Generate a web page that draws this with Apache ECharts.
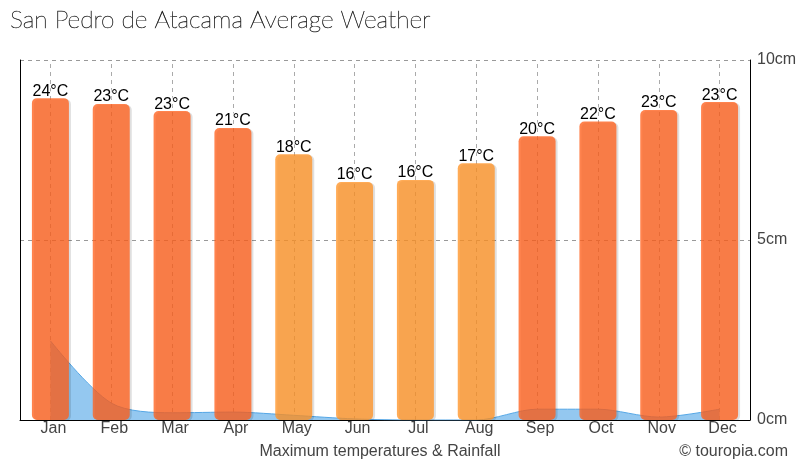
<!DOCTYPE html>
<html><head><meta charset="utf-8">
<style>html,body{margin:0;padding:0;background:#fff}#c{width:810px;height:470px}</style>
<script src="https://cdn.jsdelivr.net/npm/echarts@6/dist/echarts.min.js"></script>
</head><body><div id="c"></div>
<script>
const months = ['Jan','Feb','Mar','Apr','May','Jun','Jul','Aug','Sep','Oct','Nov','Dec'];
const tempLabels = [24,23,23,21,18,16,16,17,20,22,23,23];
const barHeights = [8.94,8.78,8.58,8.11,7.38,6.61,6.67,7.13,7.88,8.29,8.61,8.83];
const rainfallCm = [2.2,0.47,0.2,0.22,0.13,0.03,0,0,0.3,0.3,0.08,0.3];
const rainTicks = [0,5,10];
const HOT='rgba(255,96,28,0.78)', WARM='rgba(255,148,38,0.78)';
const chart = echarts.init(document.getElementById('c'),null,{renderer:'canvas'});
const grey='#444', sans='"Liberation Sans",Arial,sans-serif';
chart.setOption({
  animation:false,
  title:[
    {text:'San Pedro de Atacama Average Weather',left:10,top:8,padding:0,textStyle:{fontFamily:'Lato',fontWeight:100,fontSize:24.5,color:'#222',textBorderColor:'#333',textBorderWidth:0.5}},
    {text:'Maximum temperatures & Rainfall',left:380,textAlign:'center',top:444,padding:0,textStyle:{fontFamily:sans,fontWeight:'normal',fontSize:16,color:grey}},
    {text:'© touropia.com',right:22,top:444,padding:0,textStyle:{fontFamily:sans,fontWeight:'normal',fontSize:16,color:grey}}
  ],
  grid:{left:20,right:60,top:60,bottom:50,containLabel:false},
  xAxis:{type:'category',data:months,boundaryGap:true,
    axisLine:{show:true,lineStyle:{color:'#000',width:1}},axisTick:{show:false},splitLine:{show:false},
    axisLabel:{fontFamily:sans,fontSize:16,color:grey,margin:1,padding:[0,0,0,6],interval:0}},
  yAxis:[
    {type:'value',position:'right',min:0,max:10,interval:5,
     axisLine:{show:true,lineStyle:{color:'#000',width:1}},axisTick:{show:false},
     axisLabel:{fontFamily:sans,fontSize:16,color:grey,margin:7,padding:[2,0,0,0],formatter:v=>rainTicks.includes(v)?v+'cm':''},
     splitLine:{show:true,lineStyle:{color:'#999',type:[4,4],width:1}}},
    {type:'value',position:'left',min:0,max:10,interval:5,
     axisLine:{show:true,lineStyle:{color:'#000',width:1}},axisTick:{show:false},axisLabel:{show:false},splitLine:{show:false}}
  ],
  series:[
    {type:'line',name:'Rainfall',data:rainfallCm,smooth:0.3,symbol:'none',z:2,
     lineStyle:{color:'#55a7e6',width:1},areaStyle:{color:'#94c8f0',opacity:1},
     markLine:{silent:true,symbol:'none',z:1,label:{show:false},
       lineStyle:{color:'#aaa',type:[4,4],width:1},data:months.map(m=>({xAxis:m}))}},
    {type:'bar',name:'Maximum temperature',z:3,barWidth:37,
     data:barHeights.map((v,i)=>({value:v,itemStyle:{color:tempLabels[i]>=20?HOT:WARM}})),
     itemStyle:{borderRadius:5,shadowColor:'rgba(0,0,0,0.16)',shadowOffsetX:2,shadowOffsetY:1,shadowBlur:0},
     label:{show:true,position:'top',distance:-1,fontFamily:sans,fontSize:16,color:'#000',
       textBorderColor:'rgba(255,255,255,0.7)',textBorderWidth:2,
       formatter:p=>tempLabels[p.dataIndex]+'°C'}}
  ]
});
</script></body></html>
